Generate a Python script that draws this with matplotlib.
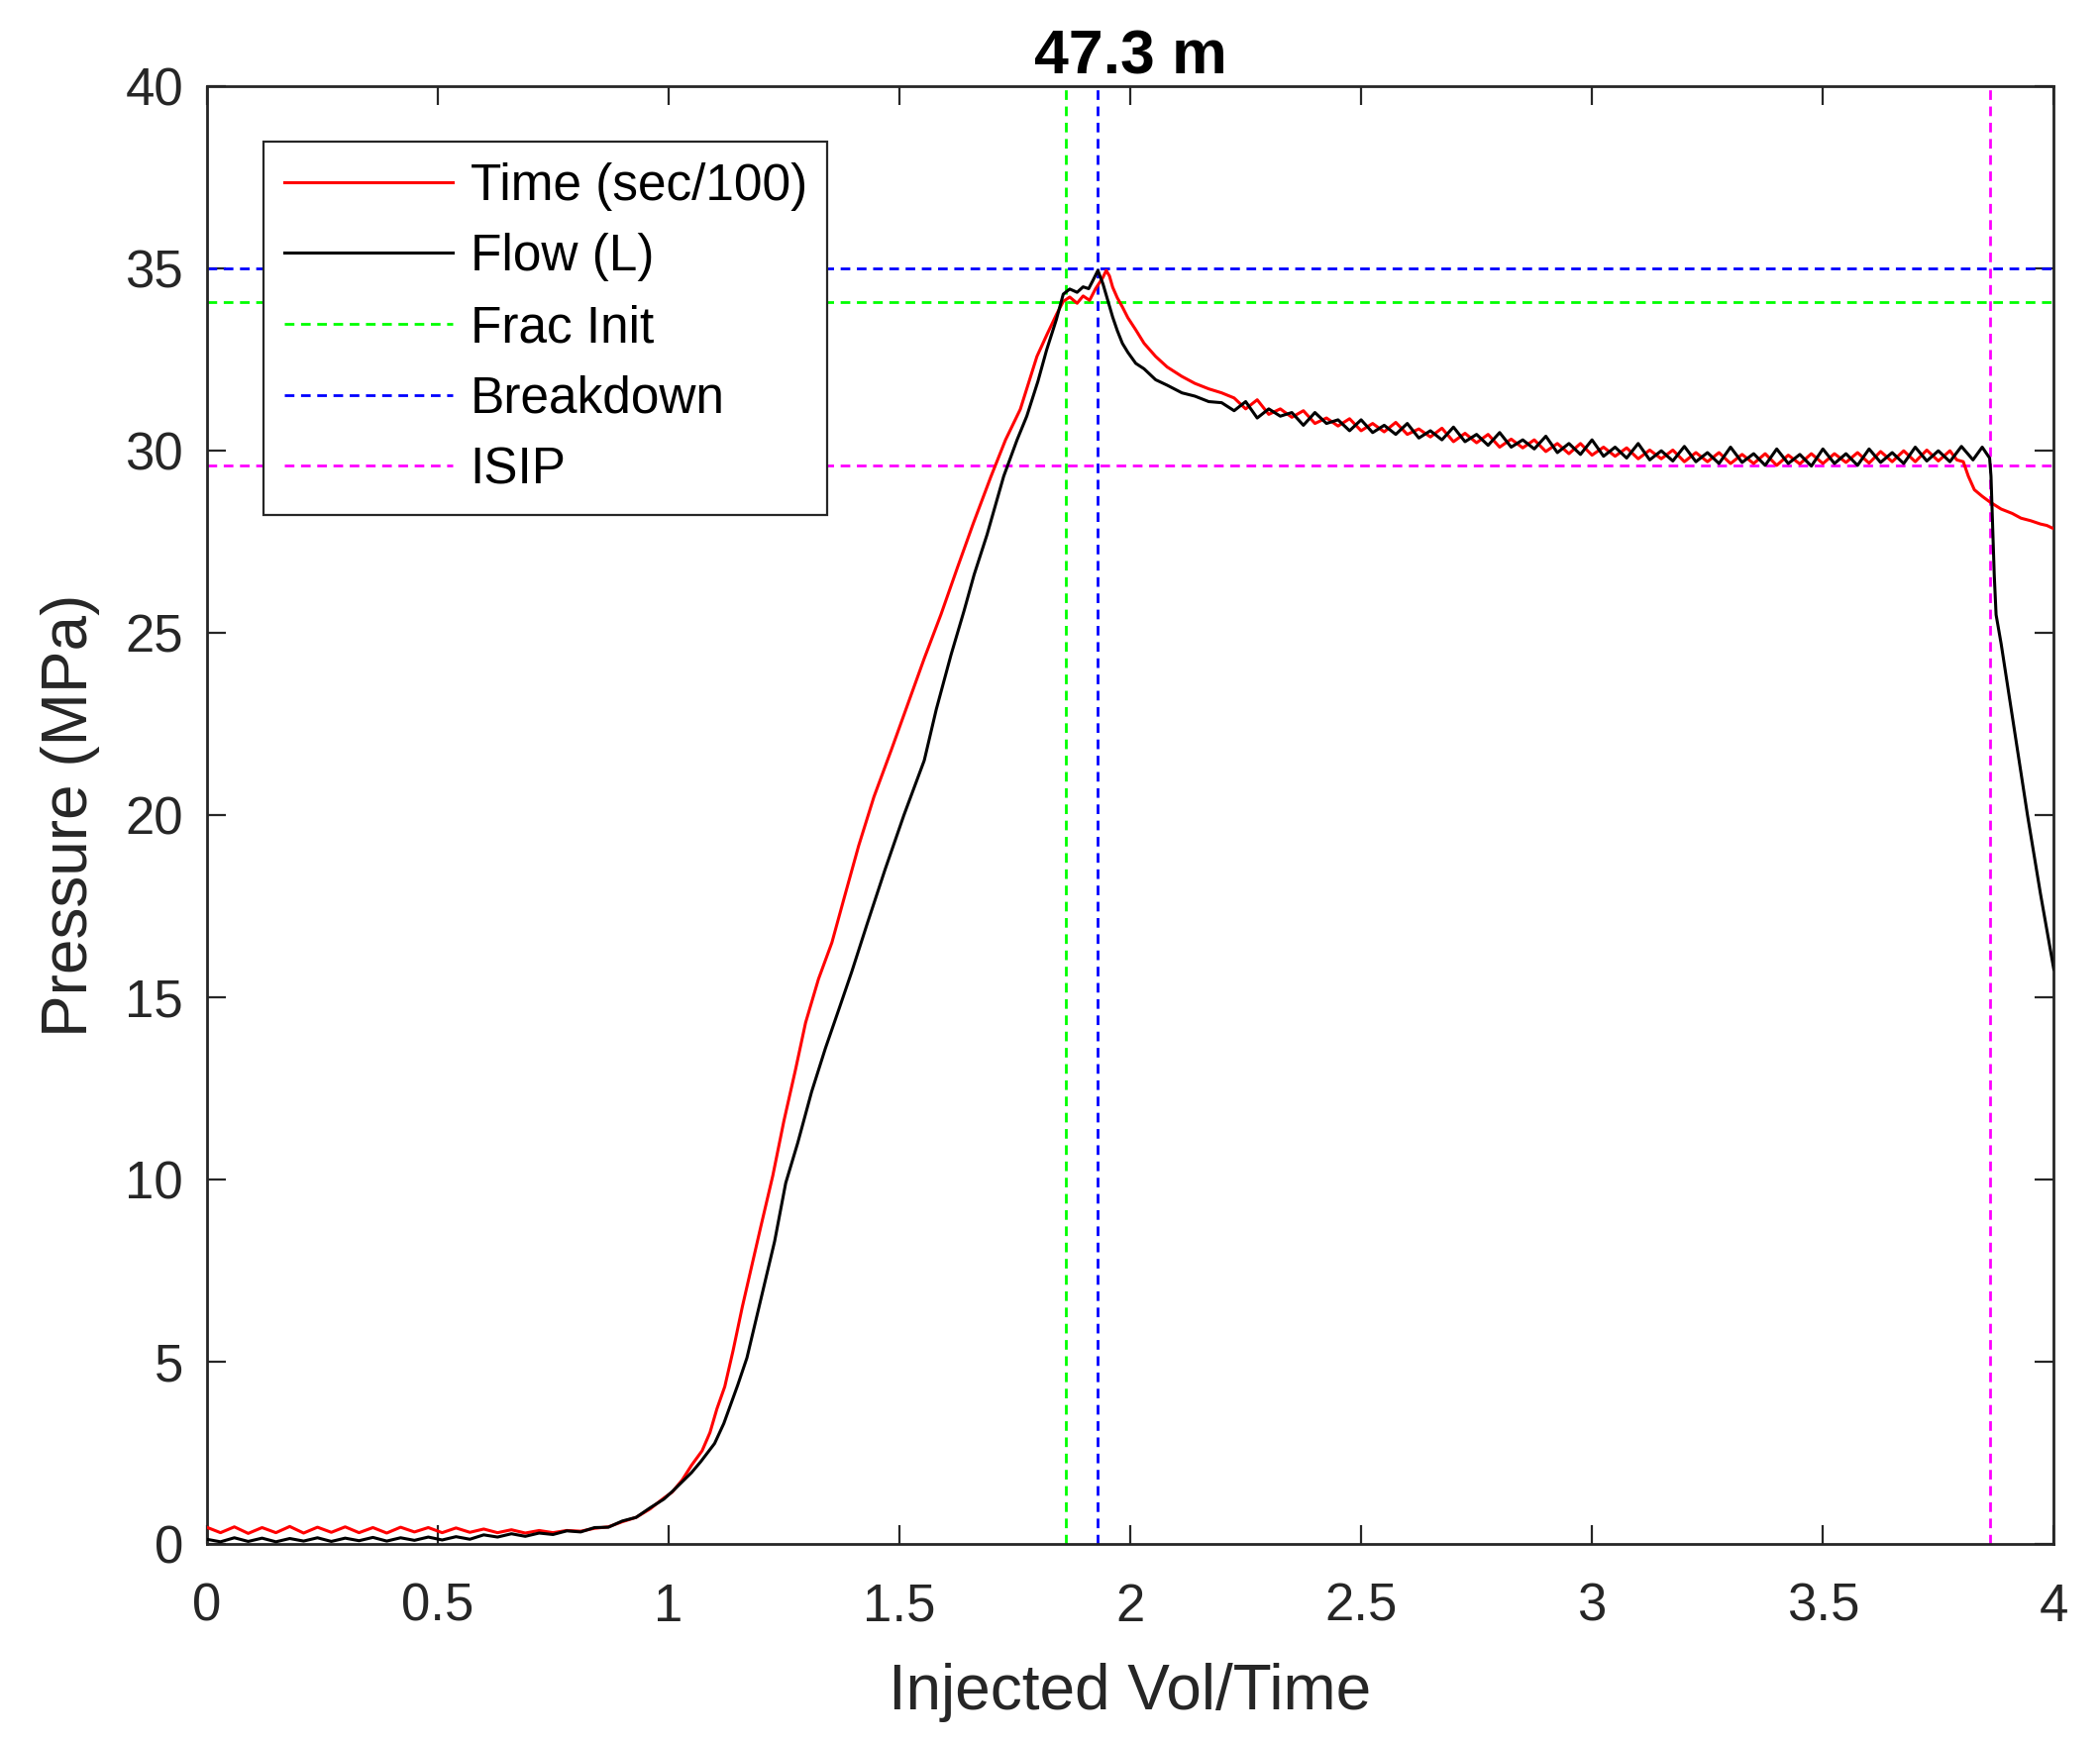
import matplotlib.pyplot as plt

plt.rcParams["font.family"] = ["Liberation Sans", "DejaVu Sans"]

# Flow (L) trace, black
flow_vol = [0.00, 0.03, 0.06, 0.09, 0.12, 0.15, 0.18, 0.21, 0.24, 0.27, 0.30, 0.33,
            0.36, 0.39, 0.42, 0.45, 0.48, 0.51, 0.54, 0.57, 0.60, 0.63, 0.66, 0.69,
            0.72, 0.75, 0.78, 0.81, 0.84, 0.87, 0.90, 0.93, 0.96, 0.99, 1.01, 1.03,
            1.05, 1.07, 1.10, 1.12, 1.15, 1.17, 1.20, 1.23, 1.254, 1.28, 1.31, 1.34,
            1.37, 1.397, 1.43, 1.469, 1.51, 1.554, 1.58, 1.612, 1.64, 1.662, 1.69,
            1.726, 1.755, 1.776, 1.80, 1.819, 1.84, 1.855, 1.869, 1.885, 1.898, 1.91,
            1.919, 1.93, 1.941, 1.952, 1.962, 1.972, 1.983, 1.995, 2.012, 2.03, 2.055,
            2.08, 2.112, 2.14, 2.17, 2.198,
            2.225, 2.25, 2.275, 2.30, 2.325, 2.35, 2.375, 2.40, 2.425, 2.45, 2.475,
            2.50, 2.525, 2.55, 2.575, 2.60, 2.625, 2.65, 2.675, 2.70, 2.725, 2.75,
            2.775, 2.80, 2.825, 2.85, 2.875, 2.90, 2.925, 2.95, 2.975, 3.00, 3.025,
            3.05, 3.075, 3.10, 3.125, 3.15, 3.175, 3.20, 3.225, 3.25, 3.275, 3.30,
            3.325, 3.35, 3.375, 3.40, 3.425, 3.45, 3.475, 3.50, 3.525, 3.55, 3.575,
            3.60, 3.625, 3.65, 3.675, 3.70, 3.725, 3.75, 3.775, 3.80, 3.825, 3.845,
            3.861, 3.864, 3.868, 3.871, 3.875, 3.886, 3.914, 3.943, 3.971, 4.00]
flow_p = [0.12, 0.05, 0.16, 0.06, 0.15, 0.05, 0.14, 0.07, 0.16, 0.06, 0.15, 0.08,
          0.17, 0.07, 0.16, 0.09, 0.18, 0.10, 0.19, 0.12, 0.24, 0.18, 0.27, 0.20,
          0.29, 0.25, 0.35, 0.32, 0.44, 0.45, 0.62, 0.72, 0.98, 1.22, 1.45, 1.70,
          1.95, 2.25, 2.75, 3.30, 4.35, 5.10, 6.70, 8.30, 9.90, 11.00, 12.40, 13.60,
          14.70, 15.70, 17.00, 18.50, 20.00, 21.50, 22.90, 24.40, 25.60, 26.60, 27.70,
          29.30, 30.30, 30.95, 31.90, 32.77, 33.60, 34.30, 34.44, 34.35, 34.50, 34.45,
          34.67, 34.95, 34.58, 34.10, 33.67, 33.30, 32.95, 32.70, 32.40, 32.25, 31.95,
          31.80, 31.59, 31.50, 31.35, 31.32,
          31.10, 31.35, 30.90, 31.15, 30.95, 31.05, 30.70, 31.05, 30.75, 30.85, 30.55,
          30.85, 30.50, 30.70, 30.45, 30.75, 30.35, 30.55, 30.30, 30.65, 30.25, 30.45,
          30.15, 30.50, 30.10, 30.30, 30.05, 30.40, 29.95, 30.20, 29.90, 30.30, 29.85,
          30.10, 29.80, 30.20, 29.75, 30.00, 29.72, 30.12, 29.70, 29.95, 29.65, 30.10,
          29.68, 29.92, 29.60, 30.05, 29.65, 29.90, 29.58, 30.05, 29.65, 29.92, 29.60,
          30.05, 29.68, 29.95, 29.65, 30.10, 29.72, 30.00, 29.70, 30.12, 29.75, 30.10,
          29.80, 29.30, 27.80, 26.60, 25.50, 24.70, 22.40, 20.00, 17.85, 15.77]

# Time (sec/100) trace, red
time_vol = [0.00, 0.03, 0.06, 0.09, 0.12, 0.15, 0.18, 0.21, 0.24, 0.27, 0.30, 0.33,
            0.36, 0.39, 0.42, 0.45, 0.48, 0.51, 0.54, 0.57, 0.60, 0.63, 0.66, 0.69,
            0.72, 0.75, 0.78, 0.81, 0.84, 0.87, 0.90, 0.93, 0.96, 0.99, 1.0077, 1.03,
            1.05, 1.073, 1.09, 1.105, 1.122, 1.14, 1.16, 1.18, 1.20, 1.226, 1.25,
            1.275, 1.297, 1.325, 1.354, 1.38, 1.412, 1.445, 1.483, 1.52, 1.554, 1.59,
            1.626, 1.66, 1.698, 1.73, 1.762, 1.798, 1.82, 1.841, 1.855, 1.869, 1.885,
            1.898, 1.912, 1.925, 1.941, 1.948, 1.955, 1.962, 1.972, 1.983, 1.995,
            2.012, 2.03, 2.055, 2.08, 2.112, 2.14, 2.17, 2.198,
            2.225, 2.25, 2.275, 2.30, 2.325, 2.35, 2.375, 2.40, 2.425, 2.45, 2.475,
            2.50, 2.525, 2.55, 2.575, 2.60, 2.625, 2.65, 2.675, 2.70, 2.725, 2.75,
            2.775, 2.80, 2.825, 2.85, 2.875, 2.90, 2.925, 2.95, 2.975, 3.00, 3.025,
            3.05, 3.075, 3.10, 3.125, 3.15, 3.175, 3.20, 3.225, 3.25, 3.275, 3.30,
            3.325, 3.35, 3.375, 3.40, 3.425, 3.45, 3.475, 3.50, 3.525, 3.55, 3.575,
            3.60, 3.625, 3.65, 3.675, 3.70, 3.725, 3.75, 3.775, 3.79, 3.804, 3.815,
            3.828, 3.845, 3.861, 3.886, 3.91, 3.929, 3.95, 3.971, 3.985, 4.00]
time_p = [0.45, 0.30, 0.46, 0.28, 0.44, 0.30, 0.47, 0.29, 0.45, 0.31, 0.46, 0.30,
          0.44, 0.29, 0.45, 0.32, 0.44, 0.30, 0.43, 0.31, 0.40, 0.30, 0.38, 0.29,
          0.36, 0.30, 0.36, 0.34, 0.42, 0.46, 0.60, 0.72, 0.95, 1.25, 1.41, 1.75,
          2.15, 2.55, 3.05, 3.70, 4.31, 5.30, 6.50, 7.60, 8.70, 10.10, 11.60,
          13.00, 14.30, 15.50, 16.50, 17.70, 19.16, 20.50, 21.80, 23.10, 24.30, 25.50,
          26.80, 28.00, 29.28, 30.30, 31.14, 32.59, 33.20, 33.76, 34.10, 34.22, 34.05,
          34.25, 34.13, 34.45, 34.76, 34.95, 34.80, 34.49, 34.20, 33.95, 33.65,
          33.32, 32.95, 32.59, 32.30, 32.04, 31.85, 31.70, 31.59,
          31.45, 31.15, 31.40, 31.00, 31.15, 30.92, 31.10, 30.75, 30.90, 30.68, 30.88,
          30.55, 30.75, 30.52, 30.78, 30.45, 30.60, 30.38, 30.62, 30.25, 30.48, 30.22,
          30.45, 30.10, 30.32, 30.08, 30.30, 29.98, 30.20, 29.92, 30.20, 29.88, 30.10,
          29.85, 30.08, 29.78, 30.02, 29.78, 30.02, 29.70, 29.95, 29.70, 29.95, 29.65,
          29.90, 29.65, 29.92, 29.60, 29.88, 29.64, 29.92, 29.65, 29.92, 29.68, 29.95,
          29.66, 29.98, 29.70, 30.00, 29.70, 30.02, 29.72, 30.00, 29.75, 29.70, 29.30,
          28.93, 28.75, 28.60, 28.40, 28.28, 28.15, 28.08, 27.99, 27.95, 27.86]

# picked events: (x, pressure)
frac_init = (1.861, 34.08)
breakdown = (1.930, 35.0)
isip = (3.861, 29.6)

x_ticks = [0, 0.5, 1, 1.5, 2, 2.5, 3, 3.5, 4]
x_tick_labels = ["0", "0.5", "1", "1.5", "2", "2.5", "3", "3.5", "4"]
y_ticks = [0, 5, 10, 15, 20, 25, 30, 35, 40]

fig = plt.figure(figsize=(21.2, 17.61), dpi=100)
ax = fig.add_axes([0.0984, 0.1149, 0.8796, 0.8355])

ax.plot(time_vol, time_p, color="#ff0000", lw=2.2, label="Time (sec/100)", zorder=3)
ax.plot(flow_vol, flow_p, color="black", lw=2.2, label="Flow (L)", zorder=4)

dash = (3.5, 2.4)
for (xv, yv), col, name in [(frac_init, "#00ff00", "Frac Init"),
                            (breakdown, "#0000ff", "Breakdown"),
                            (isip, "#ff00ff", "ISIP")]:
    ax.axhline(yv, color=col, lw=2.0, dashes=dash, label=name, zorder=2)
    ax.axvline(xv, color=col, lw=2.0, dashes=dash, zorder=2)

ax.set_xlim(0, 4)
ax.set_ylim(0, 40)
ax.set_xticks(x_ticks)
ax.set_xticklabels(x_tick_labels)
ax.set_yticks(y_ticks)

dark = "#262626"
for s in ax.spines.values():
    s.set_linewidth(2.0)
    s.set_color(dark)
ax.tick_params(direction="in", length=14, width=1.6, colors=dark,
               top=True, right=True, labelsize=38)
ax.tick_params(axis="x", pad=28)
ax.tick_params(axis="y", pad=17)

ax.set_xlabel("Injected Vol/Time", fontsize=46, color=dark, labelpad=23)
ax.set_ylabel("Pressure (MPa)", fontsize=46, color=dark, labelpad=18)
ax.set_title("47.3 m", fontsize=45, fontweight="bold", pad=9)

leg = ax.legend(loc="upper left", bbox_to_anchor=(0.031, 0.962), fontsize=37,
                handlelength=3.3, handletextpad=0.35, borderpad=0.4,
                labelspacing=0.44, fancybox=False, framealpha=1,
                edgecolor=dark, borderaxespad=0)
leg.get_frame().set_linewidth(1.6)
for t in leg.get_texts():
    t.set_color("black")

fig.savefig("out.png", dpi=100)
